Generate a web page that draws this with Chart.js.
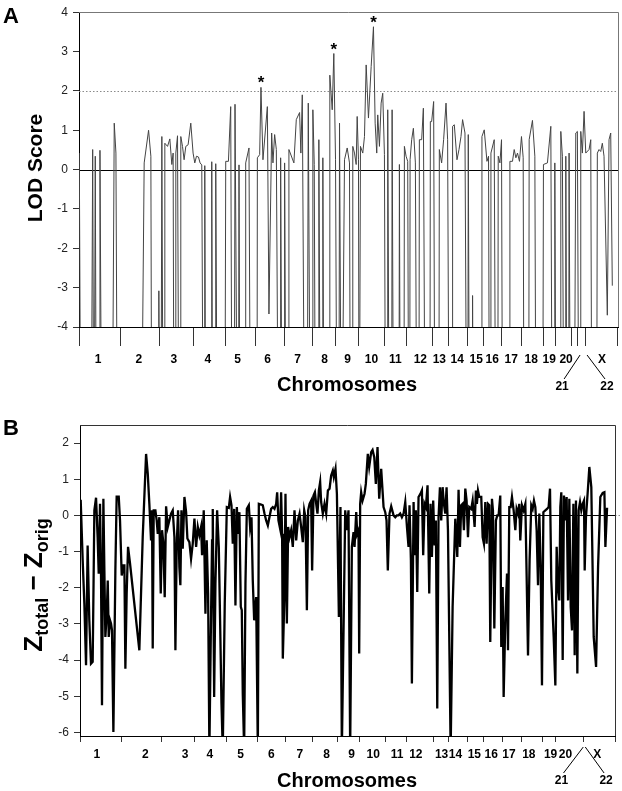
<!DOCTYPE html>
<html>
<head>
<meta charset="utf-8">
<title>Genome scan</title>
<script src="https://cdn.jsdelivr.net/npm/chart.js@4.4.1/dist/chart.umd.min.js"></script>
<style>
  body { margin: 0; background: #fff; }
  #wrap { position: relative; width: 622px; height: 791px; }
  canvas { position: absolute; left: 0; }
  #chartA { top: 0; }
  #chartB { top: 395px; }
</style>
</head>
<body>
<div id="wrap">
  <canvas id="chartA" width="622" height="395"></canvas>
  <canvas id="chartB" width="622" height="396"></canvas>
</div>
<script>
// map positions (arbitrary genome units, 0-540) and scores
// values of -9 stand for points far below the -4 floor of panel A
const posA = [
  0.3, 2, 12, 13.7, 15, 16.3, 17.5, 20.5, 21, 23,
  33, 35.3, 37, 38.7, 62, 65.3, 69.7, 72, 73, 79.5,
  80, 81, 82, 83, 84.5, 85.3, 86, 88.7, 91, 93,
  94.3, 95.3, 96.5, 97, 98.7, 100.3, 101.5, 102, 103.7, 105.3,
  107, 109.3, 112, 114.3, 116, 117.7, 119.7, 121.3, 123, 124.7,
  125.5, 126, 127, 132.5, 133, 134, 136.5, 137, 138.7, 146,
  147, 149.7, 152, 153.5, 155.5, 156.3, 159, 159.8, 160.3, 161.3,
  166.5, 167, 170.3, 172, 178.3, 178.7, 181, 182.3, 184.3, 188.7,
  190.3, 193, 194.3, 196, 197.7, 200, 201.5, 202, 203.7, 205.5,
  206, 207.5, 209.8, 210.3, 215.3, 217.7, 221, 222.3, 223.7, 226.3,
  228.5, 229.7, 232, 233.8, 234.3, 235.7, 237, 239.5, 240.3, 242,
  243.8, 244.3, 245.5, 250.5, 251.3, 253.7, 255.3, 257, 258.7, 260.3,
  261, 263, 266, 268.7, 271, 272, 273.8, 274.3, 276, 277.7,
  278.7, 280, 280.7, 281.5, 282, 284.3, 286, 287.7, 290, 292.7,
  295, 296.7, 298.3, 299.3, 301, 302.7, 304.3, 306, 307.3, 308.8,
  309.3, 311, 313.2, 313.7, 315.3, 320.5, 321, 322, 325.5, 326,
  327.7, 329.3, 330.5, 331.3, 331.7, 333.3, 335, 337, 338.7, 340.5,
  341, 343.3, 345, 347, 351.5, 352, 353.3, 355.3, 356.7, 360.5,
  361, 363.3, 365.3, 367.7, 369.3, 371, 373.8, 374.3, 376, 378.7,
  380.7, 382.7, 384.3, 386.7, 388.7, 389.5, 390, 391.3, 393.8, 394.3,
  395, 403, 403.7, 406, 408.7, 410.3, 411.3, 412.3, 412.7, 416,
  417.7, 419.5, 420, 421.7, 423.3, 424.5, 431, 431.7, 434.3, 436,
  437.7, 439.3, 441.3, 443.3, 445, 446, 450.5, 451, 454.3, 456.7,
  458, 464.5, 465.3, 469.3, 472.7, 474.3, 476.2, 476.7, 478, 482.3,
  482.7, 484.3, 486, 487.3, 487.7, 489, 490.5, 491, 492.5, 496,
  497.7, 499.3, 501, 502.3, 502.7, 504.3, 506, 507.7, 511, 512.7,
  514, 518.5, 519.3, 521, 522.7, 524.3, 526, 529.3, 531, 532.7,
  534.3
]
const lodA = [
  0.42, -9, -9, 0.51, -9, 0.34, -9, -9, 0.49, -9,
  -9, 1.18, 0.42, -9, -9, 0.17, 1.0, 0.34, -9, -9,
  -3.08, -9, -9, 0.84, -9, -9, 0.67, 0.59, 0.78, 0.13,
  0.42, -9, -9, 0.42, 0.86, -9, -9, 0.84, 0.59, 0.25,
  0.59, 0.63, 1.18, 0.42, 0.17, 0.34, 0.32, 0.17, 0.12, -9,
  -9, 0.1, -9, -9, 0.2, -9, -9, 0.15, -9, -9,
  0.21, 0.21, 1.6, -9, -9, 1.66, -9, -9, 0.12, -9,
  -9, 0.17, 0.55, -9, -9, 0.3, 0.38, 2.09, 0.25, 1.6,
  -3.67, 0.93, 0.17, 0.89, 0.51, -9, -9, 0.3, -9, -9,
  0.17, -9, -9, 0.51, 0.17, 1.27, 1.45, 0.42, 1.9, -9,
  -9, 1.69, -9, -9, 1.52, 0.13, -9, -9, 0.76, -9,
  -9, 0.3, -9, -9, 2.4, 1.52, 2.95, 0.25, -9, -9,
  1.18, -9, 0.25, 0.55, 0.17, -9, -9, 0.59, 0.42, 0.13,
  1.35, 0.25, -9, -9, 0.59, 0.42, 0.84, 2.66, 1.31, 2.62,
  3.63, 1.18, 0.42, 1.39, 0.59, 1.69, 1.94, 0.38, -9, -9,
  1.52, -9, -9, 1.52, -9, -9, 0.13, -9, -9, 0.59,
  0.34, 0.21, -9, -9, 0.25, 0.76, 1.05, 0.17, -9, -9,
  0.76, 0.76, 1.56, -9, -9, 1.22, 1.22, 1.73, -9, -9,
  0.51, 0.17, 0.76, 1.69, 0.76, -9, -9, 1.1, 1.14, 0.25,
  0.51, 0.84, 1.27, 0.93, -9, -9, 0.89, -9, -9, -3.2,
  -9, -9, 0.84, 1.01, 0.21, 0.34, -9, -9, 0.42, 0.76,
  -9, -9, 0.34, 0.17, 0.76, -9, -9, 0.21, 0.21, 0.51,
  0.3, 0.42, 0.21, 0.84, 0.3, -9, -9, 0.76, 1.25, 0.34,
  -9, -9, 0.13, 0.17, 1.1, -9, -9, 0.17, -9, -9,
  0.97, 0.34, -9, -9, 0.34, -9, -9, 0.42, -9, -9,
  0.93, 0.97, -9, -9, 0.97, 0.42, 1.48, 0.42, 0.51, 0.76,
  -9, -9, 0.42, 0.51, 0.46, 0.67, 0.34, -3.7, 0.76, 0.93,
  -2.95
]
const starPos = [182.3, 255.3, 295]

const posB = [
  0, 0.7, 2.7, 4.4, 6.1, 7.7, 9.4, 11.1, 12.8, 14.5,
  16.2, 17.8, 18.9, 20.2, 21.2, 22.2, 23.6, 24.6, 25.6, 27.0,
  28.0, 29.0, 30.3, 31.3, 32.3, 33.7, 35.7, 37.0, 39.1, 40.4,
  42.1, 43.8, 44.8, 45.8, 47.1, 48.5, 50.5, 59.9, 63.3, 66.7,
  68.4, 70.0, 71.7, 72.7, 73.4, 74.4, 76.1, 77.4, 78.5, 80.1,
  81.5, 82.8, 84.2, 85.5, 86.9, 88.6, 90.2, 91.9, 93.6, 95.3,
  96.3, 97.6, 99.0, 100.3, 101.3, 102.4, 103.7, 105.4, 107.1, 108.4,
  110.4, 112.1, 113.8, 115.5, 117.2, 118.9, 120.5, 122.2, 123.2, 124.9,
  126.6, 127.9, 129.3, 130.6, 132.0, 133.3, 134.0, 135.4, 136.7, 138.4,
  140.1, 141.4, 142.8, 144.1, 146.1, 148.2, 150.2, 151.5, 152.9, 154.2,
  155.6, 156.9, 158.3, 159.6, 160.9, 162.3, 163.3, 164.3, 165.7, 167.0,
  168.4, 170.4, 171.7, 173.1, 174.4, 175.8, 177.8, 179.5, 180.5, 182.8,
  184.5, 186.2, 187.9, 189.6, 191.2, 192.9, 194.6, 196.3, 198.0, 199.0,
  200.3, 202.0, 203.0, 204.0, 204.7, 206.4, 207.4, 208.8, 210.1, 211.5,
  213.1, 214.8, 216.5, 218.2, 219.9, 221.6, 223.2, 224.9, 226.3, 227.6,
  229.0, 230.3, 231.7, 233.3, 234.3, 235.7, 237.1, 238.4, 239.7, 241.1,
  242.4, 243.4, 245.1, 246.8, 248.5, 250.2, 251.9, 253.5, 255.2, 256.2,
  257.9, 259.3, 261.3, 262.9, 264.3, 267.7, 269.3, 271.0, 272.7, 274.4,
  276.1, 277.1, 278.8, 279.8, 281.1, 281.8, 282.8, 283.8, 285.2, 287.2,
  288.5, 290.5, 291.9, 293.9, 295.3, 297.0, 298.6, 300.3, 302.0, 304.0,
  306.4, 308.1, 309.4, 310.7, 312.4, 314.1, 316.5, 318.2, 319.8, 321.5,
  323.2, 324.9, 326.6, 328.3, 330.0, 331.6, 332.6, 334.0, 335.0, 336.7,
  337.7, 339.0, 340.4, 341.7, 343.7, 345.1, 346.4, 347.8, 349.1, 350.8,
  352.5, 353.8, 355.2, 356.5, 357.9, 359.2, 360.6, 361.9, 363.3, 364.6,
  366.0, 367.3, 368.7, 370.0, 371.4, 374.1, 376.1, 378.8, 380.8, 382.1,
  383.5, 384.8, 386.2, 387.5, 388.9, 390.2, 391.6, 392.9, 394.9, 396.3,
  398.3, 399.6, 400.6, 401.7, 403.0, 405.0, 406.4, 407.7, 409.1, 410.4,
  411.8, 413.1, 414.1, 415.8, 416.8, 418.2, 419.8, 421.2, 422.5, 424.2,
  425.2, 426.6, 427.6, 429.3, 431.0, 432.0, 433.3, 434.7, 436.0, 437.7,
  439.4, 440.7, 442.1, 443.4, 444.4, 446.1, 447.8, 449.5, 450.8, 452.2,
  453.8, 455.5, 456.9, 458.2, 459.6, 460.9, 462.3, 463.6, 465.0, 466.3,
  467.7, 469.7, 471.4, 473.0, 474.4, 475.7, 478.1, 479.8, 481.1, 482.5,
  483.8, 484.8, 485.8, 487.2, 488.5, 489.9, 491.2, 492.6, 493.9, 495.3,
  496.6, 498.0, 499.3, 500.6, 502.0, 503.3, 504.7, 506.0, 507.4, 508.7,
  509.4, 510.7, 512.8, 514.1, 516.1, 518.5, 520.9, 522.9, 525.2, 527.6,
  529.3, 530.3, 532.0
]
const diffB = [
  0.18, 0.43, -1.24, -2.44, -4.14, -0.83, -2.90, -4.10, -4.05, 0.14,
  0.49, -0.60, -1.61, 0.32, -1.61, -5.25, 0.46, -1.52, -3.36, -2.72,
  -1.80, -3.36, -2.90, -2.99, -3.18, -5.99, -1.52, 0.52, 0.52, -0.14,
  -1.66, -1.38, -1.38, -4.24, -2.16, -0.87, -1.33, -3.73, -0.60, 1.70,
  1.15, 0.32, -0.69, 0.14, -3.68, 0.14, 0.14, -0.14, -0.51, -0.05,
  -2.16, -0.41, -0.78, -2.26, 0.25, -0.32, -0.14, 0.05, 0.14, -0.60,
  -3.73, -0.83, 0.14, -1.43, -1.93, 0.14, -0.92, 0.51, 0.09, -0.64,
  -0.74, -1.20, -0.78, -0.09, -0.87, -0.32, -0.55, -0.32, -1.10, 0.14,
  -2.72, -0.69, -2.16, -6.5, -3.36, -0.69, 0.18, -5.02, -1.89, 0.14,
  -0.87, -2.90, -5.20, -6.5, -2.44, 0.23, 0.21, 0.51, 0.28, -0.78,
  0.18, -2.49, 0.23, -0.51, 0.09, -2.53, -2.62, -4.93, -6.5, -1.89,
  0.18, 0.28, -0.32, -0.05, -1.80, -2.90, -2.26, -6.5, 0.32, 0.30,
  0.28, 0.05, -0.14, -0.28, -0.05, 0.18, 0.23, 0.18, 0.32, 0.64,
  -0.14, -0.37, 0.64, -0.51, -3.96, -2.16, 0.60, -2.99, -0.32, -0.60,
  -0.41, -0.87, 0.14, -0.69, -0.14, 0.05, -0.32, -0.74, 0.14, -0.05,
  -2.62, 0.14, 0.32, 0.41, -1.52, 0.55, 0.64, 0.32, 0.05, 0.69,
  0.92, 0.37, 0.05, 0.32, 0.05, 0.69, 0.74, 1.10, 1.24, 1.06,
  1.29, 0.60, -2.81, 0.23, -6.5, 0.14, -0.41, 0.14, -6.5, -0.87,
  -0.46, -0.87, 0.09, -0.51, -0.41, -3.82, 0.32, 0.64, 0.41, 0.60,
  0.87, 1.70, 1.34, 1.75, 1.81, 1.61, 0.87, 1.89, 0.46, 1.29,
  0.23, 0.09, -0.14, -1.52, 0.05, 0.25, 0.00, -0.05, 0.00, 0.00,
  0.05, -0.05, 0.05, 0.37, -0.32, -0.87, 0.28, -1.24, -4.65, 0.37,
  -1.10, 0.14, -2.12, 0.51, 0.60, 0.69, -1.10, 0.32, 0.23, 0.83,
  -2.16, 0.32, -1.15, 0.41, -0.83, -0.14, -5.34, -0.05, 0.78, -0.14,
  0.78, 0.32, 0.05, 0.78, -0.41, -6.5, -2.53, -0.09, -1.15, 0.71,
  -0.87, 0.28, 0.32, -0.41, 0.74, 0.41, -0.60, 0.23, 0.18, 0.41,
  -0.32, 0.69, 0.32, 0.69, 0.51, 0.51, -0.60, -0.78, 0.37, -0.78,
  0.32, 0.28, -3.50, 0.46, 0.14, -3.13, -0.14, 0.00, 0.00, 0.55,
  -3.64, -1.98, -5.02, -2.90, -1.61, -3.73, 0.23, 0.23, 0.51, 0.14,
  -0.41, 0.18, 0.05, 0.32, -0.69, 0.28, 0.14, 0.32, -1.66, -3.87,
  -1.24, 0.28, 0.18, 0.41, 0.23, -0.41, -1.93, 0.05, -1.43, -4.70,
  0.09, 0.14, 0.18, 0.23, 0.74, -1.80, -3.36, -4.70, -0.87, -1.98,
  -2.35, 0.23, 0.64, -4.00, 0.55, -0.14, 0.51, -2.35, 0.46, -2.53,
  -3.18, 0.32, -3.87, 0.41, -4.37, 0.14, 0.37, 0.14, 0.32, 0.41,
  -1.52, -0.05, 0.78, 1.34, 0.78, -3.36, -4.19, -1.43, 0.51, 0.62,
  0.64, -0.87, 0.21
]

// chromosome axis: boundary ticks and label positions (same genome units)
const chromNames = ['1', '2', '3', '4', '5', '6', '7', '8', '9', '10', '11', '12', '13', '14', '15', '16', '17', '18', '19', '20', 'X']
const boundsA = [0, 42, 81, 115, 147, 177, 206, 234, 257, 280, 306, 328, 354, 370, 389, 405, 423, 443, 465, 477, 493, 499, 507, 539]
const boundsB = [0, 42, 82, 116, 148, 179, 207, 235, 260, 282, 308, 330, 357, 372, 391, 407, 426, 446, 467, 480, 508, 540]
const labelPosA = [19, 60, 95, 129, 159, 189, 219, 246, 269, 293, 317, 342, 361, 379, 398, 414, 433, 453, 471, 488, 524]
const labelPosB = [17, 66, 106, 131, 162, 193, 222, 249, 274, 296, 320, 339, 365, 379, 398, 415, 433, 453, 475, 490, 522]
const smallNames = ['21', '22']
const smallLabelA = [484, 529]
const smallApexA = [502, 509]
const smallLabelB = [486, 531]
const smallApexB = [508, 510]

const FONT = '"Liberation Sans", Arial, sans-serif'

function toPoints(xs, ys) {
  return xs.map((x, i) => ({ x: x, y: ys[i] }))
}

// draws everything Chart.js has no option for
function makeExtras(cfg) {
  return {
    id: 'extras' + cfg.letter,
    beforeDatasetsDraw(chart) {
      const ctx = chart.ctx
      const a = chart.chartArea
      const y = chart.scales.y
      ctx.save()
      const y0 = Math.round(y.getPixelForValue(0)) + 0.5
      ctx.strokeStyle = '#8a8a8a'
      ctx.lineWidth = 1
      ctx.setLineDash([1.5, 2])
      if (cfg.dotted != null) {
        const yy = Math.round(y.getPixelForValue(cfg.dotted)) + 0.5
        ctx.beginPath()
        ctx.moveTo(a.left, yy)
        ctx.lineTo(a.right, yy)
        ctx.stroke()
      }
      if (cfg.zeroTail) {
        // dotted stub of the zero line past the right edge
        ctx.beginPath()
        ctx.moveTo(a.right, y0)
        ctx.lineTo(a.right + cfg.zeroTail, y0)
        ctx.stroke()
      }
      ctx.setLineDash([])
      ctx.strokeStyle = '#000'
      ctx.beginPath()
      ctx.moveTo(a.left, y0)
      ctx.lineTo(a.right, y0)
      ctx.stroke()
      ctx.restore()
    },
    afterDraw(chart) {
      const ctx = chart.ctx
      const a = chart.chartArea
      const x = chart.scales.x
      const y = chart.scales.y
      ctx.save()

      // top and right edges of the box
      ctx.strokeStyle = cfg.frame
      ctx.lineWidth = 1
      ctx.beginPath()
      ctx.moveTo(a.left, Math.round(a.top) + 0.5)
      ctx.lineTo(Math.round(a.right) + 0.5, Math.round(a.top) + 0.5)
      ctx.lineTo(Math.round(a.right) + 0.5, a.bottom)
      ctx.stroke()

      // significance stars
      ctx.fillStyle = '#000'
      ctx.textAlign = 'center'
      ctx.textBaseline = 'alphabetic'
      ctx.font = 'bold 17px ' + FONT
      ;(cfg.stars || []).forEach(p => {
        const i = posA.indexOf(p)
        ctx.fillText('*', x.getPixelForValue(p), y.getPixelForValue(lodA[i]) + 1)
      })

      // chromosome numbers
      ctx.font = 'bold 12px ' + FONT
      ctx.textBaseline = 'middle'
      chromNames.forEach((n, i) => {
        ctx.fillText(n, x.getPixelForValue(cfg.labelPos[i]), 360)
      })
      smallNames.forEach((n, i) => {
        const lx = x.getPixelForValue(cfg.smallLabel[i])
        const ax = x.getPixelForValue(cfg.smallApex[i])
        ctx.fillText(n, lx, cfg.smallY)
        ctx.beginPath()
        ctx.moveTo(lx + (i === 0 ? 2 : -2), cfg.smallY - 8)
        ctx.lineTo(ax, cfg.apexY)
        ctx.strokeStyle = '#000'
        ctx.stroke()
      })

      // x title
      ctx.font = 'bold 20px ' + FONT
      ctx.fillText('Chromosomes', 347, cfg.xTitleY)

      // panel letter
      ctx.textAlign = 'left'
      ctx.textBaseline = 'alphabetic'
      ctx.font = 'bold 22px ' + FONT
      ctx.fillText(cfg.letter, 3, cfg.letterY)

      // y title, rotated
      ctx.translate(cfg.yTitleX, cfg.yTitleY)
      ctx.rotate(-Math.PI / 2)
      const parts = cfg.yTitle
      let total = 0
      parts.forEach(p => {
        ctx.font = 'bold ' + p.size + 'px ' + FONT
        p.w = ctx.measureText(p.t).width
        total += p.w
      })
      let cx = -total / 2
      parts.forEach(p => {
        ctx.font = 'bold ' + p.size + 'px ' + FONT
        ctx.fillText(p.t, cx, p.dy || 0)
        cx += p.w
      })
      ctx.restore()
    }
  }
}

function makeChart(id, cfg) {
  return new Chart(document.getElementById(id), {
    type: 'line',
    data: {
      datasets: [{
        data: cfg.points,
        borderColor: cfg.lineColor,
        borderWidth: cfg.lineWidth,
        pointRadius: 0,
        tension: 0,
        fill: false
      }]
    },
    options: {
      responsive: false,
      animation: false,
      devicePixelRatio: 1,
      layout: { padding: { top: cfg.padTop, right: cfg.padRight, left: 0, bottom: 0 } },
      plugins: { legend: { display: false }, tooltip: { enabled: false } },
      scales: {
        x: {
          type: 'linear',
          min: 0,
          max: 540,
          afterBuildTicks: s => { s.ticks = cfg.bounds.map(v => ({ value: v })) },
          afterFit: s => { s.height = cfg.xHeight },
          ticks: { autoSkip: false, callback: () => '' },
          grid: { drawOnChartArea: false, tickLength: cfg.tickLen, color: '#333', lineWidth: 1 },
          border: { color: '#000', width: 1 }
        },
        y: {
          min: cfg.yMin,
          max: cfg.yMax,
          afterBuildTicks: s => {
            const t = []
            for (let v = Math.ceil(cfg.yMin); v <= Math.floor(cfg.yMax); v++) t.push({ value: v })
            s.ticks = t
          },
          afterFit: s => { s.width = cfg.yWidth },
          ticks: { font: { family: FONT, size: 12 }, color: '#222', padding: 5 },
          grid: { drawOnChartArea: false, tickLength: 6, color: '#333' },
          border: { color: '#000', width: 1 }
        }
      }
    },
    plugins: [makeExtras(cfg)]
  })
}

makeChart('chartA', {
  letter: 'A', letterY: 23,
  points: toPoints(posA, lodA),
  lineColor: '#444', lineWidth: 1,
  padTop: 10, padRight: 4, xHeight: 68, yWidth: 79, tickLen: 19,
  yMin: -4, yMax: 4, dotted: 2, zeroTail: 0, frame: '#777',
  bounds: boundsA, labelPos: labelPosA,
  smallLabel: smallLabelA, smallApex: smallApexA, smallY: 387, apexY: 355,
  stars: starPos,
  xTitleY: 385,
  yTitleX: 42, yTitleY: 168,
  yTitle: [{ t: 'LOD Score', size: 21 }]
})

makeChart('chartB', {
  letter: 'B', letterY: 40,
  points: toPoints(posB, diffB),
  lineColor: '#000', lineWidth: 2.3,
  padTop: 30, padRight: 7, xHeight: 55, yWidth: 80, tickLen: 6,
  yMin: -6.1, yMax: 2.5, dotted: null, zeroTail: 6, frame: '#333',
  bounds: boundsB, labelPos: labelPosB,
  smallLabel: smallLabelB, smallApex: smallApexB, smallY: 386, apexY: 352,
  stars: [],
  xTitleY: 386,
  yTitleX: 42, yTitleY: 190,
  yTitle: [
    { t: 'Z', size: 26 },
    { t: 'total', size: 18, dy: 6 },
    { t: ' \u2212 ', size: 26 },
    { t: 'Z', size: 26 },
    { t: 'orig', size: 18, dy: 6 }
  ]
})
</script>
</body>
</html>
